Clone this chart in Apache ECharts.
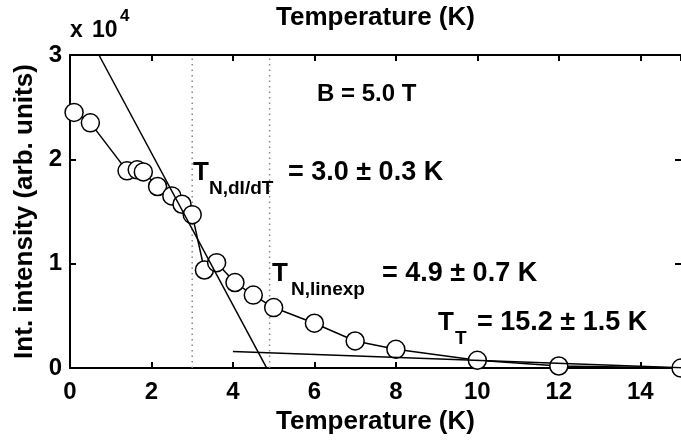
<!DOCTYPE html>
<html>
<head>
<meta charset="utf-8">
<script src="https://cdn.jsdelivr.net/npm/echarts@6/dist/echarts.min.js"></script>
<style>
  html, body { margin: 0; padding: 0; background: #fff; }
  #chart { width: 681px; height: 440px; }
</style>
</head>
<body>
<div id="chart"></div>
<script>
// measured intensity vs temperature, B = 5.0 T
var temps = [0.1, 0.5, 1.4, 1.65, 1.8, 2.15, 2.5, 2.75, 3.0, 3.3, 3.6, 4.05, 4.5, 5.0, 6.0, 7.0, 8.0, 10.0, 12.0, 15.0];
var intensity = [24500, 23500, 18900, 19000, 18800, 17400, 16500, 15700, 14700, 9400, 10100, 8200, 7000, 5800, 4300, 2600, 1800, 750, 200, 0];

// fitted lines
var steepFit = [[0.71, 30000], [4.83, 0]];
var tailFit = [[4.0, 1600], [15.2, 0]];

// transition temperatures marked with dotted lines
var markTemps = [3.0, 4.9];

var xTicks = [0, 2, 4, 6, 8, 10, 12, 14];
var yTicks = [0, 1, 2, 3];

var FONT = '"Liberation Sans", Arial, sans-serif';

function pairs(xs, ys) {
  var out = [];
  xs.forEach(function (x, i) { out.push([x, ys[i]]); });
  return out;
}

function txt(x, y, text, size) {
  return {
    type: 'text',
    x: x,
    y: y,
    style: {
      text: text,
      font: 'bold ' + size + 'px ' + FONT,
      fill: '#000',
      textAlign: 'left',
      textVerticalAlign: 'middle',
      align: 'left',
      verticalAlign: 'middle'
    }
  };
}

var axisLineStyle = { color: '#000', width: 2 };
var tickStyle = { show: true, inside: true, length: 6, lineStyle: { color: '#000', width: 2 } };
var labelStyle = { color: '#000', fontSize: 24, fontWeight: 'bold', fontFamily: FONT };
var nameStyle = { color: '#000', fontSize: 26, fontWeight: 'bold', fontFamily: FONT };

var series = [
  {
    type: 'line',
    data: pairs(temps, intensity),
    symbol: 'circle',
    symbolSize: 18,
    itemStyle: { color: '#fff', borderColor: '#000', borderWidth: 1.5 },
    lineStyle: { color: '#000', width: 1.5 },
    z: 3
  },
  {
    type: 'line',
    data: steepFit,
    symbol: 'none',
    lineStyle: { color: '#000', width: 1.5 },
    z: 4
  },
  {
    type: 'line',
    data: tailFit,
    symbol: 'none',
    lineStyle: { color: '#000', width: 1.5 },
    z: 4
  }
];

markTemps.forEach(function (t) {
  series.push({
    type: 'line',
    data: [[t, 0], [t, 30000]],
    symbol: 'none',
    lineStyle: { color: '#888', width: 1.5, type: [1.5, 4] },
    z: 1
  });
});

var chart = echarts.init(document.getElementById('chart'), null, { renderer: 'canvas' });

var option = {
  animation: false,
  backgroundColor: '#fff',
  grid: { left: 70, right: 0, top: 49, bottom: 70 },
  xAxis: [
    {
      type: 'value', position: 'bottom', min: 0, max: 15, interval: 2,
      axisLine: { show: true, onZero: false, lineStyle: axisLineStyle },
      axisTick: tickStyle,
      axisLabel: Object.assign({ margin: 12, showMaxLabel: false }, labelStyle),
      splitLine: { show: false },
      name: 'Temperature (K)', nameLocation: 'middle', nameGap: 40,
      nameTextStyle: nameStyle
    },
    {
      type: 'value', position: 'top', min: 0, max: 15, interval: 2,
      axisLine: { show: true, onZero: false, lineStyle: axisLineStyle },
      axisTick: tickStyle,
      axisLabel: { show: false },
      splitLine: { show: false },
      name: 'Temperature (K)', nameLocation: 'middle', nameGap: 24,
      nameTextStyle: nameStyle
    }
  ],
  yAxis: [
    {
      type: 'value', position: 'left', min: 0, max: 30000, interval: 10000,
      axisLine: { show: true, onZero: false, lineStyle: axisLineStyle },
      axisTick: tickStyle,
      axisLabel: Object.assign({
        margin: 8,
        formatter: function (v) { return String(yTicks[Math.round(v / 10000)]); }
      }, labelStyle),
      splitLine: { show: false },
      name: 'Int. intensity (arb. units)', nameLocation: 'middle', nameGap: 26,
      nameTextStyle: nameStyle
    },
    {
      type: 'value', position: 'right', min: 0, max: 30000, interval: 10000,
      axisLine: { show: false, onZero: false },
      axisTick: tickStyle,
      axisLabel: { show: false },
      splitLine: { show: false }
    }
  ],
  series: series,
  graphic: [
    txt(70, 31, 'x', 23),
    txt(92, 31, '10', 23),
    txt(120, 16, '4', 17),
    txt(317, 94.5, 'B = 5.0 T', 24),
    txt(193, 172.5, 'T', 26),
    txt(209, 189, 'N,dI/dT', 19),
    txt(288, 172.5, '= 3.0 \u00b1 0.3 K', 27),
    txt(272, 274, 'T', 26),
    txt(291, 290, 'N,linexp', 19),
    txt(382, 274, '= 4.9 \u00b1 0.7 K', 27),
    txt(438, 322.5, 'T', 26),
    txt(455, 339, 'T', 19),
    txt(477, 322.5, '= 15.2 \u00b1 1.5 K', 27)
  ]
};

chart.setOption(option);
</script>
</body>
</html>
